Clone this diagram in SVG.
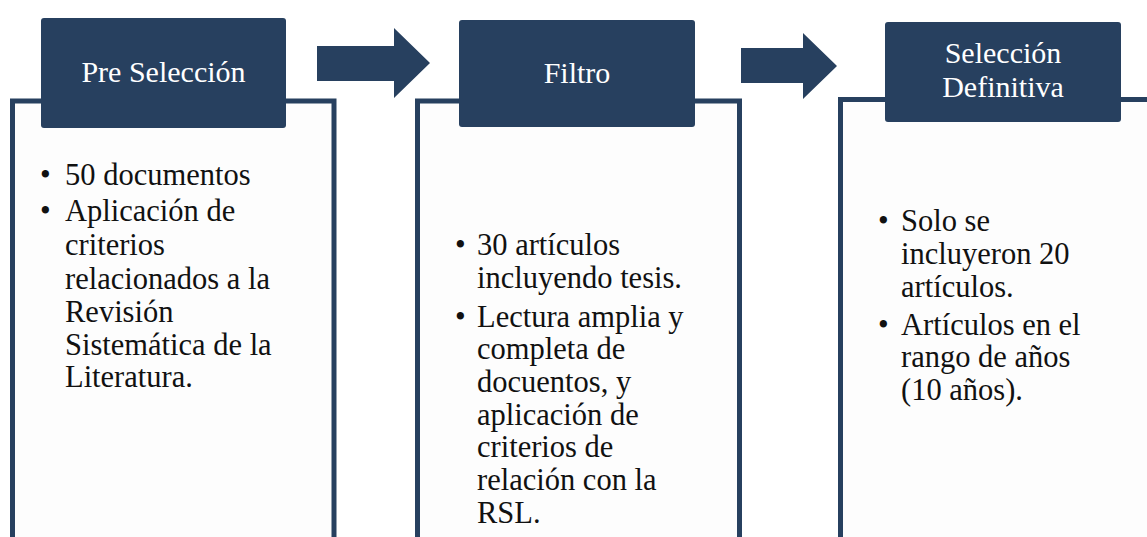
<svg xmlns="http://www.w3.org/2000/svg" width="1147" height="537" viewBox="0 0 1147 537">
<style>
.frame{fill:none;stroke:#27405f;stroke-width:5}
.bg{fill:#fdfdfd}
.head{fill:#27405f}
.ht{font-size:30px;fill:#ffffff;text-anchor:middle}
.bt{font-size:30.5px;fill:#111111}
.arrow{fill:#27405f}
</style>
<rect width="1147" height="537" fill="#ffffff"/>
<g id="connectors">
<polygon class="arrow" points="317,46 394,46 394,28 430,63 394,98 394,81 317,81"/>
<polygon class="arrow" points="741,48 803,48 803,33 837,66 803,99 803,83 741,83"/>
</g>
<g font-family="Liberation Serif, DejaVu Serif, serif">
<g id="node-preseleccion">
<rect class="bg" x="12.5" y="101" width="321.5" height="440"/>
<path class="frame" d="M12.5,545 V101 H334 V545"/>
<rect class="head" x="41" y="18" width="245" height="110" rx="3"/>
<text class="ht" x="163.5" y="82">Pre Selección</text>
<text class="bt">
<tspan x="40" y="185">•</tspan><tspan x="65" y="185">50 documentos</tspan>
<tspan x="40" y="221">•</tspan><tspan x="65" y="221">Aplicación de</tspan>
<tspan x="65" y="255">criterios</tspan>
<tspan x="65" y="289">relacionados a la</tspan>
<tspan x="65" y="322">Revisión</tspan>
<tspan x="65" y="355">Sistemática de la</tspan>
<tspan x="65" y="387">Literatura.</tspan>
</text>
</g>
<g id="node-filtro">
<rect class="bg" x="417.5" y="101" width="322" height="440"/>
<path class="frame" d="M417.5,545 V101 H739.5 V545"/>
<rect class="head" x="459" y="20" width="236" height="107" rx="3"/>
<text class="ht" x="577" y="83">Filtro</text>
<text class="bt">
<tspan x="455" y="255">•</tspan><tspan x="477" y="255">30 artículos</tspan>
<tspan x="477" y="288">incluyendo tesis.</tspan>
<tspan x="455" y="327">•</tspan><tspan x="477" y="327">Lectura amplia y</tspan>
<tspan x="477" y="359">completa de</tspan>
<tspan x="477" y="392">docuentos, y</tspan>
<tspan x="477" y="425">aplicación de</tspan>
<tspan x="477" y="457">criterios de</tspan>
<tspan x="477" y="490">relación con la</tspan>
<tspan x="477" y="523">RSL.</tspan>
</text>
</g>
<g id="node-seleccion-definitiva">
<rect class="bg" x="840.5" y="99.5" width="320" height="440"/>
<path class="frame" d="M840.5,545 V99.5 H1160"/>
<rect class="head" x="885" y="22" width="236" height="100" rx="3"/>
<text class="ht" x="1003" y="63">Selección</text>
<text class="ht" x="1003" y="97">Definitiva</text>
<text class="bt">
<tspan x="878" y="231">•</tspan><tspan x="901" y="231">Solo se</tspan>
<tspan x="901" y="264">incluyeron 20</tspan>
<tspan x="901" y="297">artículos.</tspan>
<tspan x="878" y="335">•</tspan><tspan x="901" y="335">Artículos en el</tspan>
<tspan x="901" y="367">rango de años</tspan>
<tspan x="901" y="400">(10 años).</tspan>
</text>
</g>
</g>
</svg>
